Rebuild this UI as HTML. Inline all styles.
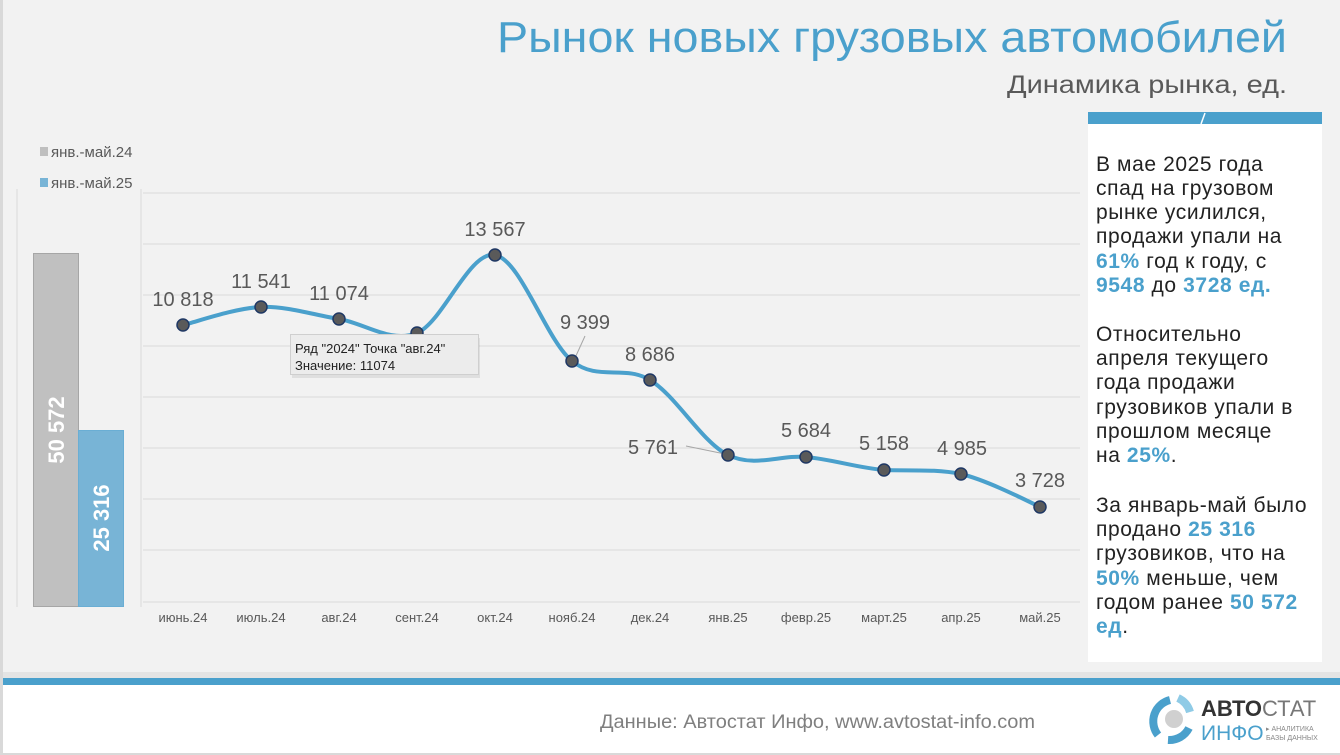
<!DOCTYPE html>
<html><head><meta charset="utf-8"><style>
html,body{margin:0;padding:0;}
body{width:1340px;height:755px;overflow:hidden;background:#f2f2f2;font-family:"Liberation Sans",sans-serif;}
</style></head><body>
<svg width="1340" height="755" viewBox="0 0 1340 755" xmlns="http://www.w3.org/2000/svg" style="position:absolute;left:0;top:0">
<rect x="0" y="0" width="1340" height="755" fill="#f2f2f2"/>
<rect x="0" y="0" width="3" height="755" fill="#d9d9d9"/>
<rect x="3" y="672" width="1337" height="6" fill="#e4e4e4"/>
<rect x="3" y="678" width="1337" height="7" fill="#4aa0cc"/>
<rect x="3" y="685" width="1337" height="68" fill="#ffffff"/>
<rect x="0" y="753" width="1340" height="2" fill="#d9d9d9"/>
<text x="600" y="728" textLength="435" lengthAdjust="spacingAndGlyphs" font-size="19" fill="#7f7f7f">Данные: Автостат Инфо, www.avtostat-info.com</text>
<g>
<path d="M1170,700 A22,22 0 0 0 1158,735" stroke="#4aa0cc" stroke-width="8" fill="none"/>
<path d="M1178,698 A22,22 0 0 1 1190,712" stroke="#8fcbe6" stroke-width="8" fill="none"/>
<path d="M1189,728 A22,22 0 0 1 1168,740" stroke="#4aa0cc" stroke-width="8" fill="none"/>
<circle cx="1174" cy="719" r="9" fill="#d0d0d0"/>
<text x="1201" y="716" font-size="22" font-weight="bold" fill="#333">АВТО<tspan font-weight="normal" fill="#777">СТАТ</tspan></text>
<text x="1201" y="740" font-size="21" fill="#4aa0cc">ИНФО</text>
<text x="1266" y="731" font-size="7" fill="#888">▸ АНАЛИТИКА</text>
<text x="1266" y="740" font-size="7" fill="#888">БАЗЫ ДАННЫХ</text>
</g>
<text x="497" y="52" textLength="790" lengthAdjust="spacingAndGlyphs" font-size="44" fill="#4aa0cc">Рынок новых грузовых автомобилей</text>
<text x="1007" y="93" textLength="280" lengthAdjust="spacingAndGlyphs" font-size="25" fill="#595959">Динамика рынка, ед.</text>
<rect x="1088" y="112" width="234" height="550" fill="#ffffff"/>
<rect x="1088" y="112" width="234" height="12" fill="#4aa0cc"/>
<line x1="1201" y1="124" x2="1205" y2="113" stroke="#fff" stroke-width="1.5"/>
<g font-size="21" fill="#222" letter-spacing="0.6">
<text x="1096" y="171">В мае 2025 года</text>
<text x="1096" y="195">спад на грузовом</text>
<text x="1096" y="219">рынке усилился,</text>
<text x="1096" y="243">продажи упали на</text>
<text x="1096" y="268"><tspan fill="#4aa0cc" font-weight="bold">61%</tspan> год к году, с</text>
<text x="1096" y="292"><tspan fill="#4aa0cc" font-weight="bold">9548</tspan> до <tspan fill="#4aa0cc" font-weight="bold">3728  ед.</tspan></text>
<text x="1096" y="341">Относительно</text>
<text x="1096" y="365">апреля текущего</text>
<text x="1096" y="389">года продажи</text>
<text x="1096" y="414">грузовиков упали в</text>
<text x="1096" y="438">прошлом месяце</text>
<text x="1096" y="462">на <tspan fill="#4aa0cc" font-weight="bold">25%</tspan>.</text>
<text x="1096" y="512">За январь-май было</text>
<text x="1096" y="536">продано <tspan fill="#4aa0cc" font-weight="bold">25 316</tspan></text>
<text x="1096" y="560">грузовиков, что на</text>
<text x="1096" y="585"><tspan fill="#4aa0cc" font-weight="bold">50%</tspan> меньше, чем</text>
<text x="1096" y="609">годом ранее <tspan fill="#4aa0cc" font-weight="bold">50 572</tspan></text>
<text x="1096" y="633"><tspan fill="#4aa0cc" font-weight="bold">ед</tspan>.</text>
</g>
<line x1="17" y1="189" x2="17" y2="607" stroke="#d9d9d9"/>
<line x1="141" y1="189" x2="141" y2="607" stroke="#d9d9d9"/>
<rect x="40" y="147" width="8" height="9" fill="#bfbfbf"/>
<text x="51" y="157" font-size="15" fill="#595959">янв.-май.24</text>
<rect x="40" y="178" width="8" height="9" fill="#78b4d6"/>
<text x="51" y="188" font-size="15" fill="#595959">янв.-май.25</text>
<rect x="33.5" y="253.5" width="45" height="353" fill="#c0c0c0" stroke="#a6a6a6"/>
<rect x="78.5" y="430.5" width="45" height="176" fill="#78b4d6" stroke="#6aaed4"/>
<text transform="translate(64,430) rotate(-90)" text-anchor="middle" font-size="22" font-weight="bold" fill="#fff">50 572</text>
<text transform="translate(109,518) rotate(-90)" text-anchor="middle" font-size="22" font-weight="bold" fill="#fff">25 316</text>
<g stroke="#d9d9d9" stroke-width="1">
<line x1="143" y1="193" x2="1080" y2="193"/>
<line x1="143" y1="244" x2="1080" y2="244"/>
<line x1="143" y1="295" x2="1080" y2="295"/>
<line x1="143" y1="346" x2="1080" y2="346"/>
<line x1="143" y1="397" x2="1080" y2="397"/>
<line x1="143" y1="448" x2="1080" y2="448"/>
<line x1="143" y1="499" x2="1080" y2="499"/>
<line x1="143" y1="550" x2="1080" y2="550"/>
<line x1="143" y1="602" x2="1080" y2="602"/>
</g>
<g font-size="13" fill="#595959" text-anchor="middle">
<text x="183" y="622">июнь.24</text><text x="261" y="622">июль.24</text><text x="339" y="622">авг.24</text>
<text x="417" y="622">сент.24</text><text x="495" y="622">окт.24</text><text x="572" y="622">нояб.24</text>
<text x="650" y="622">дек.24</text><text x="728" y="622">янв.25</text><text x="806" y="622">февр.25</text>
<text x="884" y="622">март.25</text><text x="961" y="622">апр.25</text><text x="1040" y="622">май.25</text>
</g>
<path d="M183,325 C196,322 235,308 261,307 C287,306 313,314.7 339,319 C365,323.3 391,343.7 417,333 C443,322.3 469.2,250.3 495,255 C520.8,259.7 546.2,340.2 572,361 C597.8,381.8 624,364.3 650,380 C676,395.7 702,442.2 728,455 C754,467.8 780,454.7 806,457 C832,459.3 858.2,468 884,470 C909.8,471 935,468.8 961,474 C987,480.2 1027,500.7 1040,507" stroke="#4aa0cc" stroke-width="4" fill="none"/>
<line x1="575" y1="358" x2="585" y2="336" stroke="#a6a6a6"/>
<line x1="686" y1="446" x2="725" y2="454" stroke="#a6a6a6"/>
<g fill="#5a5a5a" stroke="#1f3864" stroke-width="1.5">
<circle cx="183" cy="325" r="6"/><circle cx="261" cy="307" r="6"/><circle cx="339" cy="319" r="6"/>
<circle cx="417" cy="333" r="6"/><circle cx="495" cy="255" r="6"/><circle cx="572" cy="361" r="6"/>
<circle cx="650" cy="380" r="6"/><circle cx="728" cy="455" r="6"/><circle cx="806" cy="457" r="6"/>
<circle cx="884" cy="470" r="6"/><circle cx="961" cy="474" r="6"/><circle cx="1040" cy="507" r="6"/>
</g>
<g font-size="20" fill="#595959" text-anchor="middle">
<text x="183" y="306">10 818</text><text x="261" y="288">11 541</text><text x="339" y="300">11 074</text>
<text x="495" y="236">13 567</text><text x="585" y="329">9 399</text><text x="650" y="361">8 686</text>
<text x="678" y="454" text-anchor="end">5 761</text><text x="806" y="437">5 684</text><text x="884" y="450">5 158</text>
<text x="962" y="455">4 985</text><text x="1040" y="487">3 728</text>
</g>
<rect x="291" y="336" width="188" height="40" fill="#000" opacity="0.08" transform="translate(1,2)"/>
<rect x="290.5" y="334.5" width="188" height="40" fill="#ececec" stroke="#cfcfcf"/>
<text x="295" y="353" font-size="13" fill="#222">Ряд "2024" Точка "авг.24"</text>
<text x="295" y="370" font-size="13" fill="#222">Значение: 11074</text>
</svg>
</body></html>
